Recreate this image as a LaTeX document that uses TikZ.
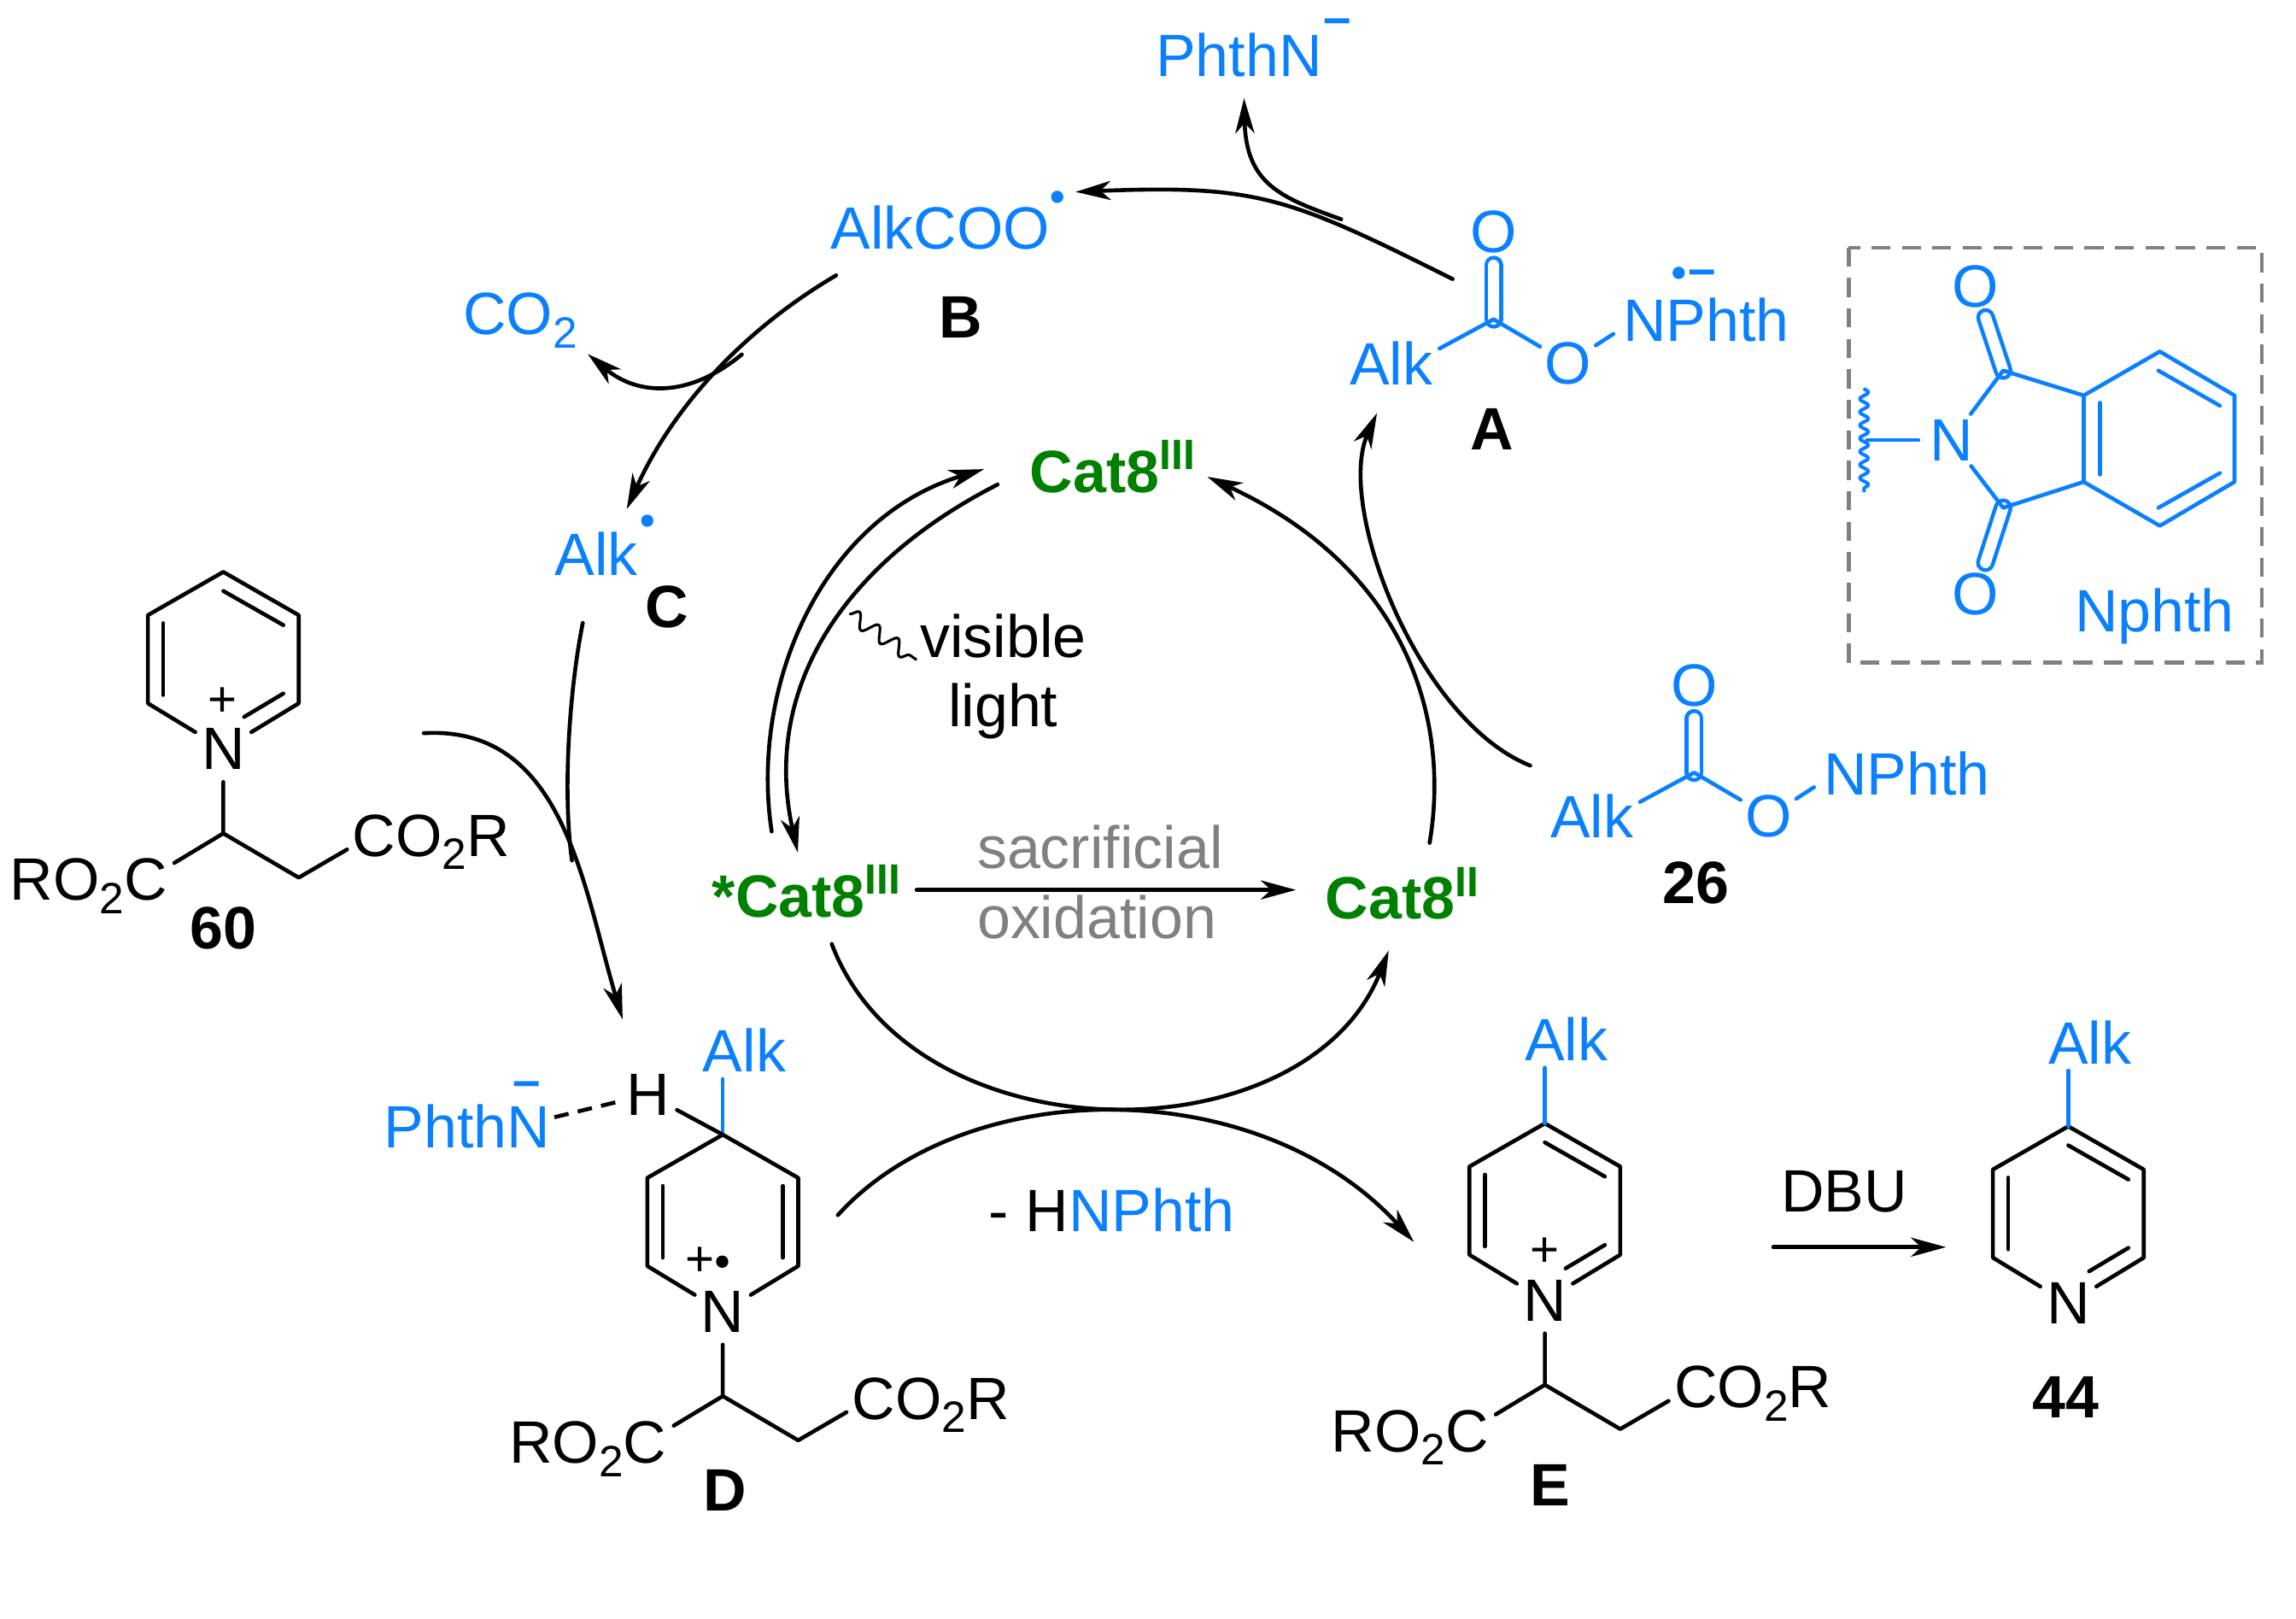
\documentclass[tikz,border=0pt]{standalone}
\usepackage{fontspec}
\usepackage{xcolor}
\usepackage{tikz}
\usetikzlibrary{arrows.meta,decorations.pathmorphing}
\setmainfont{Liberation Sans}
\definecolor{alkblue}{HTML}{0A80FF}
\newcommand{\subnum}[1]{\raisebox{-4.5pt}{\fontsize{15}{15}\selectfont #1}}
\newcommand{\catsup}[1]{\raisebox{7.8pt}{\fontsize{14.5}{14.5}\selectfont #1}}
\tikzstyle{node:text}=[inner sep=0,anchor=base west]
\tikzstyle{node:textright}=[inner sep=0,anchor=base east]
\tikzstyle{node:atom}=[circle,inner sep=0,minimum size=22pt]
\tikzstyle{node:label}=[inner sep=0,anchor=base,font=\fontsize{20.4}{24}\selectfont\bfseries]
\tikzstyle{node:cat}=[node:text,green!50!black,font=\fontsize{20.4}{24}\selectfont\bfseries]
\tikzstyle{node:alkcolor}=[alkblue]
\tikzstyle{node:charge}=[inner sep=0,anchor=base,font=\fontsize{17}{17}\selectfont]
\tikzstyle{node:dot}=[circle,inner sep=0,minimum size=4.2pt,fill]
\tikzstyle{draw:bond}=[line width=1.35pt,line cap=round,line join=round]
\tikzstyle{draw:double}=[draw:bond,double=white,double distance=3.7pt]
\tikzstyle{draw:hbond}=[line width=1.35pt,dash pattern=on 5pt off 3.2pt]
\tikzstyle{draw:arrow}=[-{Stealth[length=12pt,width=6.5pt,inset=3.5pt]},line width=1.35pt,line cap=round]
\tikzstyle{draw:line}=[line width=1.35pt,line cap=round]
\tikzstyle{draw:wavy}=[line width=1.2pt,line join=round,decorate,decoration={snake,amplitude=1.5pt,segment length=4.5pt}]
\tikzstyle{draw:light}=[line width=0.9pt,line join=round,decorate,decoration={snake,amplitude=2.5pt,segment length=8pt}]

\begin{document}
\begin{tikzpicture}[x=0.5pt,y=-0.5pt,font=\fontsize{20.4}{23.5}\selectfont]
        \useasboundingbox (0,0) rectangle (1568,1105.4);

        % Pyridine rings
        \foreach \m/\x/\y in {R60/152.5/390.5,RD/493.6/774.7,RE/1055/767,R44/1412.5/769} {
                \begin{scope}[shift={(\x,\y)}]
                        \coordinate (\m-1) at (0,0);
                        \coordinate (\m-2) at (51.5,29.5);
                        \coordinate (\m-3) at (51.5,89.7);
                        \coordinate (\m-5) at (-51.5,89.7);
                        \coordinate (\m-6) at (-51.5,29.5);
                        \node[node:atom] (\m-N) at (0,121) {N};
                        \draw[draw:bond] (\m-N) -- (\m-3) -- (\m-2) -- (\m-1) -- (\m-6) -- (\m-5) -- (\m-N);
                \end{scope}
            }

        % Inner double bonds
        \foreach \m in {R60,RE,R44} {
                \begin{scope}[shift={(\m-1)}]
                        \coordinate (\m-a) at (0,13);
                        \coordinate (\m-b) at (41,36.3);
                        \coordinate (\m-c) at (-41,35);
                        \coordinate (\m-d) at (-41,84);
                        \coordinate (\m-e) at (14.2,99);
                        \coordinate (\m-f) at (41,83);
                        \draw[draw:bond] (\m-a) -- (\m-b);
                        \draw[draw:bond] (\m-c) -- (\m-d);
                        \draw[draw:bond] (\m-e) -- (\m-f);
                \end{scope}
            }
        \begin{scope}[shift={(RD-1)}]
                \coordinate (RD-a) at (-41,35);
                \coordinate (RD-b) at (-41,84);
                \coordinate (RD-c) at (41,35);
                \coordinate (RD-d) at (41,84);
                \draw[draw:bond] (RD-a) -- (RD-b);
                \draw[draw:bond] (RD-c) -- (RD-d);
        \end{scope}

        % Side chains
        \foreach \m in {R60,RD,RE} {
                \begin{scope}[shift={(\m-1)}]
                        \coordinate (\m-7) at (0,178.5);
                        \coordinate (\m-8) at (51.5,208.7);
                        \coordinate (\m-g) at (-33.5,198.7);
                        \coordinate (\m-h) at (84.5,189.5);
                        \node[node:text] (\m-CO) at (88,194.3) {CO\subnum{2}R};
                        \node[node:textright] (\m-RO) at (-38,224.3) {RO\subnum{2}C};
                        \draw[draw:bond] (\m-N) -- (\m-7) -- (\m-g);
                        \draw[draw:bond] (\m-7) -- (\m-8) -- (\m-h);
                \end{scope}
            }

        % Alkyl groups on the rings
        \foreach \m in {RD,RE,R44} {
                \begin{scope}[shift={(\m-1)}]
                        \coordinate (\m-9) at (0,-38);
                        \node[node:text,node:alkcolor] (\m-Alk) at (-14,-42.7) {Alk};
                        \draw[draw:bond,alkblue] (\m-1) -- (\m-9);
                \end{scope}
            }

        % Ring charges
        \node[node:charge] (R60-plus) at (151.8,489) {+};
        \node[node:charge] (RE-plus) at (1055,864.5) {+};
        \node[node:charge] (RD-plus) at (478,871) {+};
        \node[node:dot] (RD-dot) at (493.2,861.4) {};

        % H abstraction on D
        \node[node:atom] (H) at (442.6,747.2) {H};
        \coordinate (HB) at (378.6,762.8);
        \node[node:text,node:alkcolor] (PhthN-D) at (262,783.9) {PhthN};
        \node[node:charge,node:alkcolor] (PhthN-Dm) at (359.7,749) {\bfseries\textendash};
        \draw[draw:bond] (H) -- (RD-1);
        \draw[draw:hbond] (HB) -- (H);

        % Esters A and 26
        \foreach \m/\x/\y in {EA/1020/218,E26/1157/527.5} {
                \begin{scope}[shift={(\x,\y)},alkblue]
                        \coordinate (\m-C) at (0,0);
                        \coordinate (\m-a) at (-37,20);
                        \coordinate (\m-b) at (81.8,10);
                        \node[node:atom] (\m-O1) at (0,-59.4) {O};
                        \node[node:atom] (\m-O2) at (51,30) {O};
                        \node[node:text] (\m-Alk) at (-98.6,44.5) {Alk};
                        \node[node:text] (\m-NPhth) at (88,15) {NPhth};
                        \draw[draw:double] (\m-C) -- (\m-O1);
                        \draw[draw:bond] (\m-a) -- (\m-C) -- (\m-O2);
                        \draw[draw:bond] (\m-O2) -- (\m-b);
                \end{scope}
            }
        \node[node:dot,alkblue] (EA-dot) at (1146.4,186.3) {};
        \node[node:charge,node:alkcolor] (EA-minus) at (1162.5,195) {\bfseries\textendash};

        % Nphth box
        \coordinate (box-a) at (1262.6,169);
        \coordinate (box-b) at (1544.6,452.4);
        \draw[gray,line width=1.3pt,dash pattern=on 6.5pt off 3.9pt] (box-a) rectangle (box-b);
        \begin{scope}[alkblue]
                \node[node:atom] (PN) at (1332.5,300.5) {N};
                \node[node:atom] (PO1) at (1349,195.5) {O};
                \node[node:atom] (PO2) at (1349,405.5) {O};
                \coordinate (P1) at (1368,253);
                \coordinate (P2) at (1423,270);
                \coordinate (P3) at (1475,240);
                \coordinate (P4) at (1526,270);
                \coordinate (P5) at (1526,329);
                \coordinate (P6) at (1475,359);
                \coordinate (P7) at (1423,329);
                \coordinate (P8) at (1368,346.7);
                \coordinate (P9) at (1434,275);
                \coordinate (P10) at (1434,324);
                \coordinate (P11) at (1474,253);
                \coordinate (P12) at (1516,277);
                \coordinate (P13) at (1474,346.7);
                \coordinate (P14) at (1516,323);
                \coordinate (W1) at (1273,265);
                \coordinate (W2) at (1273,336);
                \coordinate (W3) at (1275,300.5);
                \draw[draw:double] (P1) -- (PO1);
                \draw[draw:double] (P8) -- (PO2);
                \draw[draw:bond] (PN) -- (P1) -- (P2) -- (P3) -- (P4) -- (P5) -- (P6) -- (P7) -- (P8) -- (PN);
                \draw[draw:bond] (P2) -- (P7);
                \draw[draw:bond] (P9) -- (P10);
                \draw[draw:bond] (P11) -- (P12);
                \draw[draw:bond] (P13) -- (P14);
                \draw[draw:bond] (W3) -- (PN);
                \draw[draw:wavy] (W1) -- (W2);
                \node[node:text] (Nphth) at (1416.5,431.5) {Nphth};
        \end{scope}

        % Intermediates
        \node[node:text,node:alkcolor] (PhthN-T) at (789,52) {PhthN};
        \node[node:charge,node:alkcolor] (PhthN-Tm) at (913.4,23.8) {\bfseries\textendash};
        \node[node:text,node:alkcolor] (AlkCOO) at (567,169.8) {AlkCOO};
        \node[node:dot,alkblue] (AlkCOO-dot) at (722,134.4) {};
        \node[node:text,node:alkcolor] (CO2) at (316,228.6) {CO\subnum{2}};
        \node[node:text,node:alkcolor] (AlkC) at (378.5,392.7) {Alk};
        \node[node:dot,alkblue] (AlkC-dot) at (442,355.5) {};

        % Catalyst states
        \node[node:cat] (Cat-G) at (703,336) {Cat8\catsup{III}};
        \node[node:cat] (Cat-X) at (486,626) {*Cat8\catsup{III}};
        \node[node:cat] (Cat-R) at (904.7,627.6) {Cat8\catsup{II}};

        % Conditions
        \node[align=center,inner sep=0] (Light) at (685,462) {visible\\light};
        \node[node:text,gray] (Sac) at (667,593) {sacrificial};
        \node[node:text,gray] (Oxi) at (667,640.6) {oxidation};
        \node[node:text] (HNPhth) at (675,841) {- H{\color{alkblue}NPhth}};
        \node[node:text] (DBU) at (1216,827.6) {DBU};

        % Labels
        \node[node:label] (L-A) at (1019,307.4) {A};
        \node[node:label] (L-B) at (656,230.5) {B};
        \node[node:label] (L-C) at (455.7,428.3) {C};
        \node[node:label] (L-D) at (495.3,1031.6) {D};
        \node[node:label] (L-E) at (1058.4,1028) {E};
        \node[node:label] (L-60) at (152.5,648) {60};
        \node[node:label] (L-26) at (1158,617) {26};
        \node[node:label] (L-44) at (1410.7,967.9) {44};

        % Arrow ends
        \coordinate (a1) at (992,190.5);
        \coordinate (a2) at (734.5,131);
        \coordinate (a3) at (915.9,149.7);
        \coordinate (a4) at (849.6,67);
        \coordinate (b1) at (571,188);
        \coordinate (b2) at (428,347.6);
        \coordinate (b3) at (506.6,242);
        \coordinate (b4) at (401.4,241.7);
        \coordinate (c1) at (398,425.3);
        \coordinate (c2) at (390.6,587.5);
        \coordinate (d1) at (289.4,500.6);
        \coordinate (d2) at (425.2,696);
        \coordinate (e1) at (527,567.7);
        \coordinate (e2) at (672,320.3);
        \coordinate (f1) at (681.3,330.8);
        \coordinate (f2) at (544.8,582);
        \coordinate (g1) at (976.3,575.5);
        \coordinate (g2) at (824.5,325.5);
        \coordinate (h1) at (1045,522.7);
        \coordinate (h2) at (940.4,282);
        \coordinate (i1) at (568,644.5);
        \coordinate (i2) at (948.4,649);
        \coordinate (j1) at (572.2,829.6);
        \coordinate (j2) at (965.6,848);
        \coordinate (k1) at (626,607.6);
        \coordinate (k2) at (885,607.6);
        \coordinate (l1) at (1211,851.5);
        \coordinate (l2) at (1329,851.5);
        \coordinate (m1) at (580,419);
        \coordinate (m2) at (626,450.5);

        % Arrows around the cycle
        \draw[draw:arrow] (a1) .. controls (880,134.5) and (858.5,126) .. (a2);
        \draw[draw:arrow] (a3) .. controls (875,135) and (851,126) .. (a4);
        \draw[draw:arrow] (b1) .. controls (506.4,226) and (458.8,279.3) .. (b2);
        \draw[draw:arrow] (b3) .. controls (471.5,271) and (436.5,271) .. (b4);
        \draw[draw:line] (c1) .. controls (389,470) and (384,540) .. (c2);
        \draw[draw:arrow] (d1) .. controls (385,495) and (398,605) .. (d2);
        \draw[draw:arrow] (e1) .. controls (512,470) and (560,354) .. (e2);
        \draw[draw:arrow] (f1) .. controls (575,385) and (520,471) .. (f2);
        \draw[draw:arrow] (g1) .. controls (990,495) and (964,390) .. (g2);
        \draw[draw:arrow] (h1) .. controls (968,492) and (912,345) .. (h2);
        \draw[draw:arrow] (i1) .. controls (624,792) and (892,792) .. (i2);
        \draw[draw:arrow] (j1) .. controls (660,733) and (860,732) .. (j2);
        \draw[draw:arrow] (k1) -- (k2);
        \draw[draw:arrow] (l1) -- (l2);
        \draw[draw:light] (m1) -- (m2);

    \end{tikzpicture}
\end{document}
